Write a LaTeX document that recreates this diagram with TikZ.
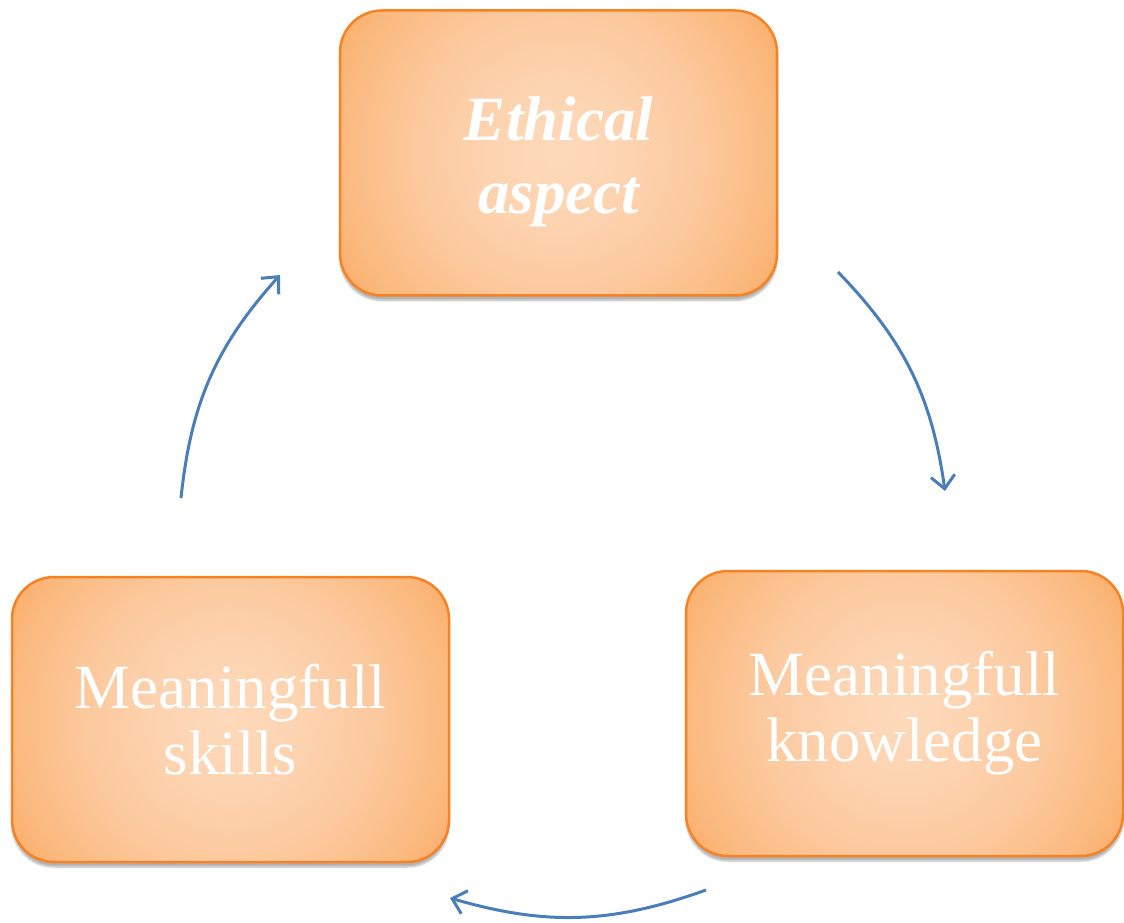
\documentclass[tikz,border=0pt]{standalone}
\usepackage{fontspec}
\setmainfont{Liberation Serif}
\usetikzlibrary{arrows.meta,shadows.blur}
\definecolor{boxedge}{RGB}{246,130,36}
\definecolor{boxin}{RGB}{253,218,187}
\definecolor{boxnear}{RGB}{253,211,176}
\definecolor{boxmid}{RGB}{252,201,158}
\definecolor{boxrim}{RGB}{251,185,126}
\definecolor{boxout}{RGB}{250,172,104}
\definecolor{arrowblue}{RGB}{74,126,187}
\pgfdeclareradialshading{boxglow}{\pgfpoint{0bp}{0bp}}{%
  color(0bp)=(boxin); color(7bp)=(boxnear); color(13.6bp)=(boxmid);
  color(21bp)=(boxrim); color(25bp)=(boxout); color(50bp)=(boxout)}
\tikzset{
  stage/.style={draw=boxedge, line width=2.5pt, rounded corners=42pt,
    fill=boxout,
    path picture={\shade[shading=boxglow] (path picture bounding box.center) circle (262pt);},
    minimum width=437pt, minimum height=285pt, inner sep=0pt,
    text=white, align=center, font=\fontsize{63}{66}\selectfont,
    blur shadow={shadow xshift=0pt, shadow yshift=-5pt, shadow blur steps=6, shadow opacity=30}},
  cycarrow/.style={draw=arrowblue, line width=3pt,
    -{Straight Barb[length=13pt,width=24pt,line width=3pt]}, bend left=18}
}
\begin{document}
\begin{tikzpicture}[x=1pt,y=1pt]
\useasboundingbox (0,0) rectangle (1124,922);
\node[stage] (eth) at (558.5,769) {\bfseries\itshape\rule{0pt}{62pt}Ethical\\[7pt]\bfseries\itshape aspect};
\node[stage] (skl) at (230.5,202.5) {Meaningfull\\skills};
\node[stage] (knw) at (904.5,208.5) {Meaningfull\\knowledge};
\coordinate (a1s) at (838,650);
\coordinate (a1e) at (945,431);
\coordinate (a2s) at (706,32);
\coordinate (a2e) at (450,24);
\coordinate (a3s) at (181,424);
\coordinate (a3e) at (280,647);
\draw[cycarrow] (a1s) to (a1e);
\draw[cycarrow] (a2s) to (a2e);
\draw[cycarrow] (a3s) to (a3e);
\end{tikzpicture}
\end{document}
